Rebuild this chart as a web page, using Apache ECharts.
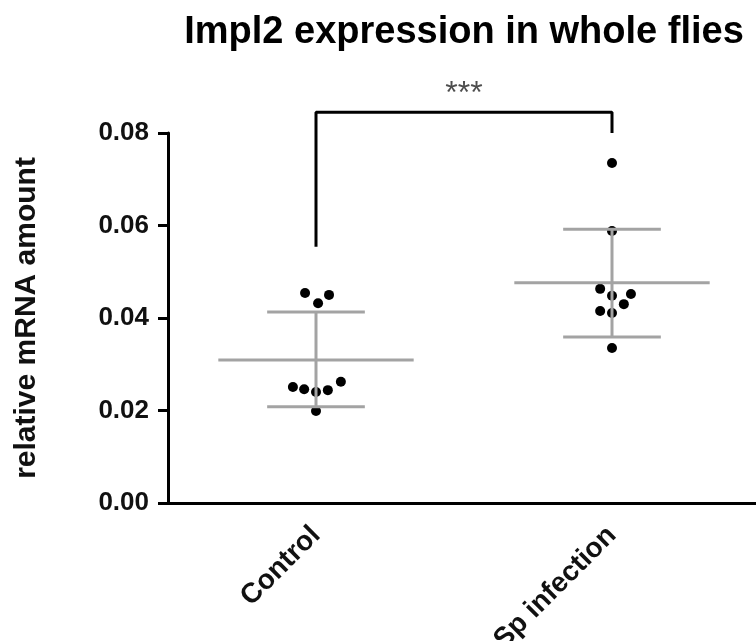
<!DOCTYPE html>
<html>
<head>
<meta charset="utf-8">
<script src="https://cdn.jsdelivr.net/npm/echarts@6/dist/echarts.min.js"></script>
<style>html,body{margin:0;padding:0;background:#fff}#c{width:756px;height:641px}</style>
</head>
<body>
<div id="c"></div>
<script>
var titleText = 'Impl2 expression in whole flies';
var yAxisName = 'relative mRNA amount';
var categories = ['Control', 'Sp infection'];
var yTicks = [0, 0.02, 0.04, 0.06, 0.08];

// individual measurements
var controlValues = [0.0454, 0.0450, 0.0432, 0.0251, 0.0246, 0.0240, 0.0244, 0.0262, 0.0199];
var controlJitter = [-0.037, 0.044, 0.007, -0.078, -0.040, 0.0, 0.040, 0.084, 0.0];
var infectionValues = [0.0735, 0.0588, 0.0463, 0.0448, 0.0452, 0.0430, 0.0415, 0.0411, 0.0335];
var infectionJitter = [0.0, 0.0, -0.040, 0.0, 0.064, 0.040, -0.040, 0.0, 0.0];

// mean and SD bounds
var means = [0.0309, 0.0476];
var upperSD = [0.0413, 0.0592];
var lowerSD = [0.0208, 0.0359];

// significance bracket
var bracketLeftBottom = 0.0554;
var bracketTop = 0.0845;
var bracketRightBottom = 0.0800;
var sigLabel = '***';
var sigLabelValue = 0.0885;

var FONT = '"Liberation Sans", Arial, Helvetica, sans-serif';

var pointData = [];
controlValues.forEach(function (v, i) { pointData.push([0 + controlJitter[i], v]); });
infectionValues.forEach(function (v, i) { pointData.push([1 + infectionJitter[i], v]); });

var errData = categories.map(function (c, i) { return [i, means[i], upperSD[i], lowerSD[i]]; });

var bracketData = [[0, bracketLeftBottom], [0, bracketTop], [1, bracketTop], [1, bracketRightBottom]];

var chart = echarts.init(document.getElementById('c'), null, { renderer: 'canvas' });
chart.setOption({
  animation: false,
  backgroundColor: '#fff',
  graphic: [{
    type: 'text',
    x: 464, y: 33,
    style: {
      text: titleText,
      font: 'bold 38px ' + FONT,
      fill: '#000',
      align: 'center',
      verticalAlign: 'middle'
    }
  }],
  grid: { left: 168, right: -4, top: 133, bottom: 138, containLabel: false, outerBoundsMode: 'none' },
  xAxis: [{
    type: 'category',
    data: categories,
    boundaryGap: true,
    axisLine: { onZero: false, lineStyle: { color: '#000', width: 3 } },
    axisTick: { alignWithLabel: true, length: 11, lineStyle: { color: '#000', width: 3 } },
    axisLabel: { rotate: 45, margin: 28, color: '#111', fontSize: 28, fontWeight: 'bold', fontFamily: FONT },
    splitLine: { show: false }
  }, {
    type: 'value', min: -0.5, max: 1.5, show: false
  }],
  yAxis: {
    type: 'value',
    min: yTicks[0], max: yTicks[yTicks.length - 1], interval: 0.02,
    name: yAxisName,
    nameLocation: 'middle',
    nameGap: 126,
    nameTextStyle: { color: '#111', fontSize: 30, fontWeight: 'bold', fontFamily: FONT },
    axisLine: { show: true, onZero: false, lineStyle: { color: '#000', width: 3 } },
    axisTick: { show: true, length: 10, lineStyle: { color: '#000', width: 3 } },
    axisLabel: { margin: 19, color: '#111', fontSize: 26, fontWeight: 'bold', fontFamily: FONT,
      formatter: function (v) { return v.toFixed(2); } },
    splitLine: { show: false }
  },
  series: [{
    type: 'scatter',
    xAxisIndex: 1,
    data: pointData,
    symbol: 'circle',
    symbolSize: 10,
    itemStyle: { color: '#000', opacity: 1 },
    z: 2
  }, {
    type: 'custom',
    xAxisIndex: 1,
    data: errData,
    z: 3,
    renderItem: function (params, api) {
      var x = api.value(0);
      var pm = api.coord([x, api.value(1)]);
      var pu = api.coord([x, api.value(2)]);
      var pl = api.coord([x, api.value(3)]);
      var band = api.size([1, 0])[0];
      var mw = band * 0.33, cw = band * 0.165;
      var st = { stroke: '#a3a3a3', lineWidth: 3 };
      return {
        type: 'group',
        children: [
          { type: 'line', shape: { x1: pm[0] - mw, y1: pm[1], x2: pm[0] + mw, y2: pm[1] }, style: st },
          { type: 'line', shape: { x1: pu[0], y1: pu[1], x2: pl[0], y2: pl[1] }, style: st },
          { type: 'line', shape: { x1: pu[0] - cw, y1: pu[1], x2: pu[0] + cw, y2: pu[1] }, style: st },
          { type: 'line', shape: { x1: pl[0] - cw, y1: pl[1], x2: pl[0] + cw, y2: pl[1] }, style: st }
        ]
      };
    }
  }, {
    type: 'line',
    xAxisIndex: 1,
    data: bracketData,
    symbol: 'none',
    clip: false,
    lineStyle: { color: '#000', width: 3 },
    z: 4
  }, {
    type: 'scatter',
    xAxisIndex: 1,
    data: [[0.5, sigLabelValue]],
    symbolSize: 1,
    clip: false,
    itemStyle: { color: 'rgba(0,0,0,0)' },
    label: { show: true, position: 'inside', formatter: sigLabel, color: '#222', fontSize: 32, fontFamily: FONT },
    z: 4
  }]
});
</script>
</body>
</html>
